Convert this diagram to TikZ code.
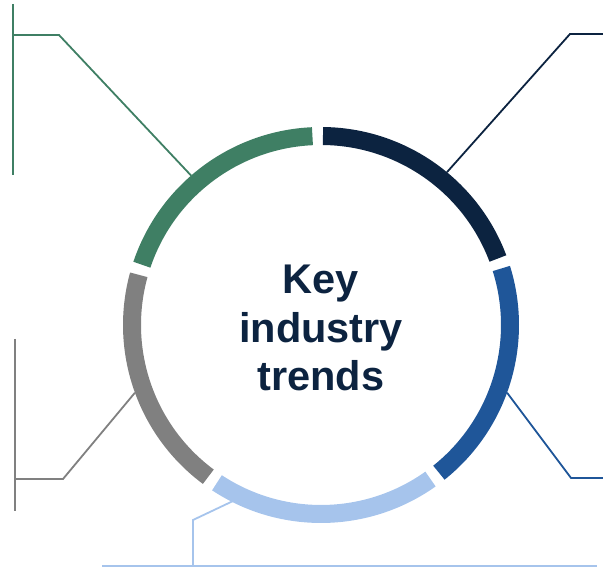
\documentclass[tikz,border=0pt]{standalone}
\usepackage{fontspec}
\setmainfont{Liberation Sans}
\usetikzlibrary{calc}
\definecolor{trnavy}{HTML}{0C2340}
\definecolor{trgreen}{HTML}{3F7F64}
\definecolor{trgray}{HTML}{808080}
\definecolor{trblue}{HTML}{1F5699}
\definecolor{trlight}{HTML}{A6C4EC}
\tikzset{
  ringseg/.style={line width=18pt,line cap=butt},
  leader/.style={line width=1.8pt,line join=miter},
  titletxt/.style={font=\fontsize{41.5}{48.5}\selectfont\bfseries,text=trnavy,
    align=center,inner sep=0pt},
}
\begin{document}
\begin{tikzpicture}[x=1pt,y=1pt]
  \useasboundingbox (0,0) rectangle (603,567);
  \coordinate (c) at (321,242);
  % five ring segments
  \foreach \sa/\ea/\col in {20.6/89.4/trnavy,-51.4/17.4/trblue,
      -123.4/-54.6/trlight,164.6/233.4/trgray,92.6/161.4/trgreen}
    \draw[ringseg,\col] ([shift={(\sa:189)}]c)
      arc[start angle=\sa,end angle=\ea,radius=189];
  \node[titletxt] (title) at ($(c)+(0,-3)$) {Key\\industry\\trends};
  % leader lines
  \coordinate (pnavy) at ([shift={(50.5:198)}]c);
  \coordinate (pgreen) at ([shift={(131:198)}]c);
  \coordinate (pblue) at ([shift={(-20:198)}]c);
  \coordinate (pgray) at ([shift={(200:198)}]c);
  \coordinate (plight) at ([shift={(243.4:197)}]c);
  \draw[leader,trnavy] (pnavy) -- (570,533) -- (603,533);
  \draw[leader,trblue] (pblue) -- (571,89) -- (603,89);
  \draw[leader,trgreen] (pgreen) -- (59,532) -- (13,532);
  \draw[leader,trgreen] (13,563) -- (13,392);
  \draw[leader,trgray] (pgray) -- (63,88) -- (15,88);
  \draw[leader,trgray] (15,228) -- (15,56);
  \draw[leader,trlight] (plight) -- (193,47) -- (193,1);
  \draw[leader,trlight] (102,1) -- (597,1);
\end{tikzpicture}
\end{document}
